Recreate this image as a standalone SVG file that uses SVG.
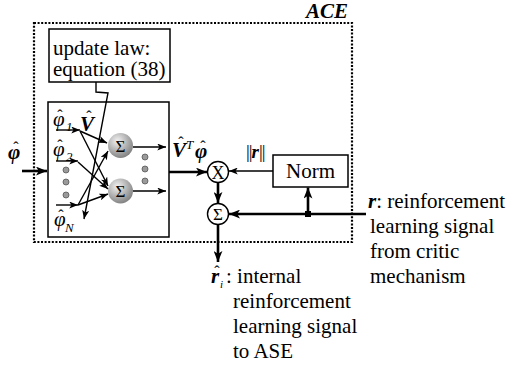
<svg xmlns="http://www.w3.org/2000/svg" width="509" height="367" viewBox="0 0 509 367">
<style>
.ln{stroke:#000;fill:none;stroke-width:1.4}
.th{stroke:#000;fill:none;stroke-width:2.6}
.box{stroke:#000;fill:#fff;stroke-width:1.5}
text{font-family:'Liberation Serif','Times New Roman','DejaVu Serif',serif;fill:#000}
.t{font-size:21px}
.s{font-size:13px;font-style:italic;font-weight:normal}
.bi{font-weight:bold;font-style:italic}
.it{font-style:italic}
.hat{font-size:16px;text-anchor:middle;font-weight:normal;font-style:normal}
.dot{fill:#9a9a9a;stroke:#555;stroke-width:0.8}
</style>
<defs>
<radialGradient id="g" cx="0.38" cy="0.32" r="0.75">
<stop offset="0" stop-color="#f2f2f2"/>
<stop offset="0.5" stop-color="#b5b5b5"/>
<stop offset="1" stop-color="#7a7a7a"/>
</radialGradient>
<marker id="ab" viewBox="0 0 10 8" refX="10" refY="4" markerWidth="11" markerHeight="9" markerUnits="userSpaceOnUse" orient="auto">
<path d="M0,0 L10,4 L0,8 L2.5,4 z" fill="#000"/>
</marker>
<marker id="as" viewBox="0 0 10 8" refX="10" refY="4" markerWidth="9" markerHeight="7" markerUnits="userSpaceOnUse" orient="auto">
<path d="M0,0 L10,4 L0,8 L2.5,4 z" fill="#000"/>
</marker>
</defs>

<g id="ace">
<rect x="34" y="23" width="318" height="219" fill="none" stroke="#000" stroke-width="2.2" stroke-dasharray="2 1.6"/>
<text class="t bi" x="306" y="18">ACE</text>
</g>

<g id="update-law">
<rect class="box" x="49" y="29" width="121" height="53"/>
<text class="t" x="53" y="55">update law:</text>
<text class="t" x="53" y="76">equation (38)</text>
</g>

<g id="network">
<rect class="box" x="48" y="102" width="121" height="135"/>
<text class="t it" x="53" y="126">φ<tspan class="hat" x="60" y="121">ˆ</tspan><tspan class="s" x="66" y="131">1</tspan></text>
<text class="t it" x="53" y="156">φ<tspan class="hat" x="60" y="151">ˆ</tspan><tspan class="s" x="66" y="161">2</tspan></text>
<text class="t it" x="54" y="226">φ<tspan class="hat" x="61" y="221">ˆ</tspan><tspan class="s" x="65" y="232">N</tspan></text>
<text class="t bi" x="80" y="131">V<tspan class="hat" x="89" y="122">ˆ</tspan></text>
<circle class="dot" cx="66" cy="170" r="3"/>
<circle class="dot" cx="66" cy="182" r="3"/>
<circle class="dot" cx="66" cy="195" r="3"/>
<circle class="dot" cx="145" cy="157" r="3"/>
<circle class="dot" cx="145" cy="169" r="3"/>
<circle class="dot" cx="145" cy="181" r="3"/>
</g>

<g id="sum1">
<circle cx="120.5" cy="145.5" r="12.5" fill="url(#g)"/>
<text x="120.5" y="151.5" style="font-size:17px;text-anchor:middle">Σ</text>
</g>
<g id="sum2">
<circle cx="120.5" cy="191" r="12.5" fill="url(#g)"/>
<text x="120.5" y="197" style="font-size:17px;text-anchor:middle">Σ</text>
</g>

<g id="mult">
<circle cx="218" cy="172" r="10.5" fill="#fff" stroke="#000" stroke-width="1.4"/>
<text x="218" y="178.5" style="font-size:18px;text-anchor:middle">X</text>
</g>

<g id="sum3">
<circle cx="218" cy="214" r="10.5" fill="#fff" stroke="#000" stroke-width="1.4"/>
<text x="218" y="220" style="font-size:17px;text-anchor:middle">Σ</text>
</g>

<g id="norm">
<rect class="box" x="273" y="155" width="75" height="32"/>
<text class="t" x="310.5" y="178" text-anchor="middle">Norm</text>
</g>

<g id="labels">
<text class="t bi" x="8" y="159">φ<tspan class="hat" x="16" y="153">ˆ</tspan></text>
<text class="t bi" x="172" y="157">V<tspan class="hat" x="181" y="148">ˆ</tspan><tspan class="s" x="186" y="149">T</tspan></text>
<text class="t bi" x="195" y="158">φ<tspan class="hat" x="203" y="152">ˆ</tspan></text>
<text x="246" y="158" style="font-size:19px"><tspan letter-spacing="-1">||</tspan><tspan class="bi">r</tspan><tspan letter-spacing="-1">||</tspan></text>
<text class="t" x="368" y="208"><tspan class="bi">r</tspan>: reinforcement</text>
<text class="t" x="370" y="233">learning signal</text>
<text class="t" x="370" y="258">from critic</text>
<text class="t" x="370" y="283">mechanism</text>
<text class="t bi" x="211" y="283">r<tspan class="hat" x="217" y="277">ˆ</tspan><tspan x="220" y="288" style="font-size:11px;font-style:italic;font-weight:normal">i</tspan></text>
<text class="t" x="226" y="283">: internal</text>
<text class="t" x="233" y="308">reinforcement</text>
<text class="t" x="233" y="333">learning signal</text>
<text class="t" x="233" y="358">to ASE</text>
</g>

<g id="connectors">
<path class="th" d="M22,171 H47" marker-end="url(#ab)"/>
<path class="th" d="M169,172 H207" marker-end="url(#ab)"/>
<path class="th" d="M218,182.5 V203" marker-end="url(#ab)"/>
<path class="th" d="M218,224.5 V262" marker-end="url(#ab)"/>
<path class="th" d="M366,214 H229" marker-end="url(#ab)"/>
<path class="th" d="M308,214 V187.5" marker-end="url(#ab)"/>
<rect x="305" y="211" width="6" height="6" fill="#000"/>
<path class="ln" stroke-width="1.6" d="M273,171 H229" marker-end="url(#as)"/>
<path class="ln" d="M96,82 V92 L108,93 L84,219" marker-end="url(#as)"/>
<path class="ln" d="M56,130 H80" marker-end="url(#as)"/>
<path class="ln" d="M56,161 H78" marker-end="url(#as)"/>
<path class="ln" d="M56,205 H78" marker-end="url(#as)"/>
<path class="ln" d="M80,131 L107,143" marker-end="url(#as)"/>
<path class="ln" d="M80,131 L108,186" marker-end="url(#as)"/>
<path class="ln" d="M78,162 L108,189" marker-end="url(#as)"/>
<path class="ln" d="M78,205 L108,151" marker-end="url(#as)"/>
<path class="ln" d="M78,205 L108,194" marker-end="url(#as)"/>
<path class="ln" d="M133,147 H166" marker-end="url(#as)"/>
<path class="ln" d="M133,191 H166" marker-end="url(#as)"/>
</g>
</svg>
